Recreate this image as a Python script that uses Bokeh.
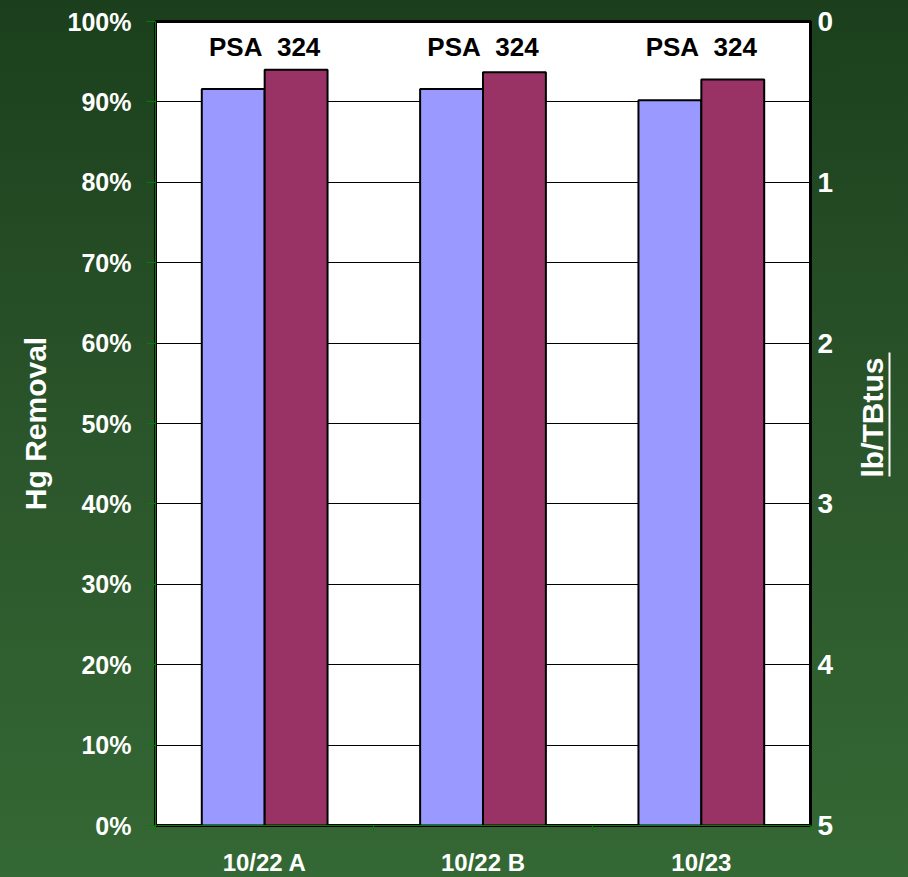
import numpy as np
from bokeh.plotting import figure
from bokeh.layouts import row
from bokeh.models import (ColumnDataSource, Range1d, LinearAxis, FixedTicker,
                          NumeralTickFormatter, Title)
from bokeh.transform import dodge
from bokeh.core.properties import value
from bokeh.embed import file_html
from bokeh.resources import INLINE

# --- data -------------------------------------------------------------
runs = ["10/22 A", "10/22 B", "10/23"]
removal_first = [0.916, 0.916, 0.902]     # lavender bars
removal_second = [0.940, 0.937, 0.928]    # maroon bars
group_labels = ["PSA\u00a0\u00a0324", "PSA\u00a0\u00a0324", "PSA\u00a0\u00a0324"]
pct_ticks = [0.0, 0.1, 0.2, 0.3, 0.4, 0.5, 0.6, 0.7, 0.8, 0.9, 1.0]
rate_ticks = [0, 1, 2, 3, 4, 5]

FONT = "Liberation Sans"
GREEN_AXIS = "#008000"
GRADIENT = {"background-image":
            "linear-gradient(to bottom, #1b3f1c 0%, #2b552b 50%, #346834 100%)"}

centers = np.arange(len(runs)) + 0.5
src = ColumnDataSource(dict(x=centers, a=removal_first, b=removal_second,
                            label=group_labels))

p = figure(frame_width=655, frame_height=804,
           x_range=Range1d(0, len(runs)), y_range=Range1d(0, 1),
           output_backend="svg", toolbar_location=None,
           min_border_left=155, min_border_right=30,
           min_border_top=21, min_border_bottom=52)

# green gradient behind the chart, white plotting area
p.border_fill_alpha = 0
p.styles = GRADIENT
p.background_fill_color = "white"
p.outline_line_color = "black"
p.outline_line_width = 3

# bars
bar_w = 0.288
p.vbar(x=dodge("x", -bar_w / 2, range=p.x_range), top="a", width=bar_w, bottom=0,
       source=src, fill_color="#9999ff", line_color="black", line_width=2)
p.vbar(x=dodge("x", bar_w / 2, range=p.x_range), top="b", width=bar_w, bottom=0,
       source=src, fill_color="#993366", line_color="black", line_width=2)

# group captions
p.text(x="x", y=0.968, text="label", source=src,
       text_font=value(FONT), text_font_style="bold", text_font_size="26px",
       text_align="center", text_baseline="middle", text_color="black")

# grid
p.xgrid.visible = False
p.ygrid.ticker = FixedTicker(ticks=pct_ticks)
p.ygrid.grid_line_color = "black"
p.ygrid.grid_line_width = 1

# left axis: removal percentage
ya = p.yaxis[0]
ya.ticker = FixedTicker(ticks=pct_ticks)
ya.formatter = NumeralTickFormatter(format="0%")
ya.axis_label = "Hg Removal"
ya.axis_label_text_font = FONT
ya.axis_label_text_font_style = "bold"
ya.axis_label_text_font_size = "30px"
ya.axis_label_text_color = "white"
ya.axis_label_standoff = 13
ya.major_label_text_font = FONT
ya.major_label_text_font_style = "bold"
ya.major_label_text_font_size = "25px"
ya.major_label_text_color = "white"
ya.major_label_standoff = 15
ya.major_tick_out = 9
ya.major_tick_in = 0
ya.minor_tick_line_color = None
ya.axis_line_color = GREEN_AXIS
ya.major_tick_line_color = GREEN_AXIS

# bottom axis: run names centred, ticks on category boundaries
xa = p.xaxis[0]
xa.ticker = FixedTicker(ticks=list(centers), minor_ticks=list(range(len(runs) + 1)))
xa.major_label_overrides = {float(c): r for c, r in zip(centers, runs)}
xa.major_label_text_font = FONT
xa.major_label_text_font_style = "bold"
xa.major_label_text_font_size = "24px"
xa.major_label_text_color = "white"
xa.major_label_standoff = 17
xa.major_tick_line_color = None
xa.major_tick_out = 0
xa.minor_tick_out = 6
xa.minor_tick_in = 0
xa.minor_tick_line_color = GREEN_AXIS
xa.axis_line_color = GREEN_AXIS

# right axis: emission rate, inverted scale
p.extra_y_ranges = {"rate": Range1d(start=5, end=0)}
ra = LinearAxis(y_range_name="rate", ticker=FixedTicker(ticks=rate_ticks))
ra.major_label_text_font = FONT
ra.major_label_text_font_style = "bold"
ra.major_label_text_font_size = "28px"
ra.major_label_text_color = "white"
ra.major_label_standoff = 7
ra.major_tick_line_color = None
ra.major_tick_out = 0
ra.minor_tick_line_color = None
ra.axis_line_color = None
p.add_layout(ra, "right")

# narrow side strip for the right-hand title; the short white axis line
# of the strip underlines it
side = figure(frame_width=19, frame_height=804,
              x_range=Range1d(0, 1), y_range=Range1d(0, 1),
              x_axis_location=None, y_axis_location="left",
              output_backend="svg", toolbar_location=None,
              min_border_left=49, min_border_right=0,
              min_border_top=21, min_border_bottom=52)
side.border_fill_alpha = 0
side.background_fill_alpha = 0
side.styles = GRADIENT
side.outline_line_color = None
side.grid.visible = False
sa = side.yaxis[0]
sa.ticker = FixedTicker(ticks=[])
sa.bounds = (0.434, 0.588)
sa.axis_line_color = "white"
sa.axis_line_width = 2
sa.major_tick_line_color = None
sa.minor_tick_line_color = None
sa.major_tick_out = 0
sa.major_label_text_font_size = "0px"
# title starts at the lower end of the underline
side.add_layout(Title(text="lb/TBtus", align="left", offset=348, standoff=1,
                      text_font=FONT, text_font_style="bold",
                      text_font_size="30px", text_color="white"), "left")

layout = row(p, side, spacing=0)
open("out.html", "w").write(file_html(layout, INLINE))
